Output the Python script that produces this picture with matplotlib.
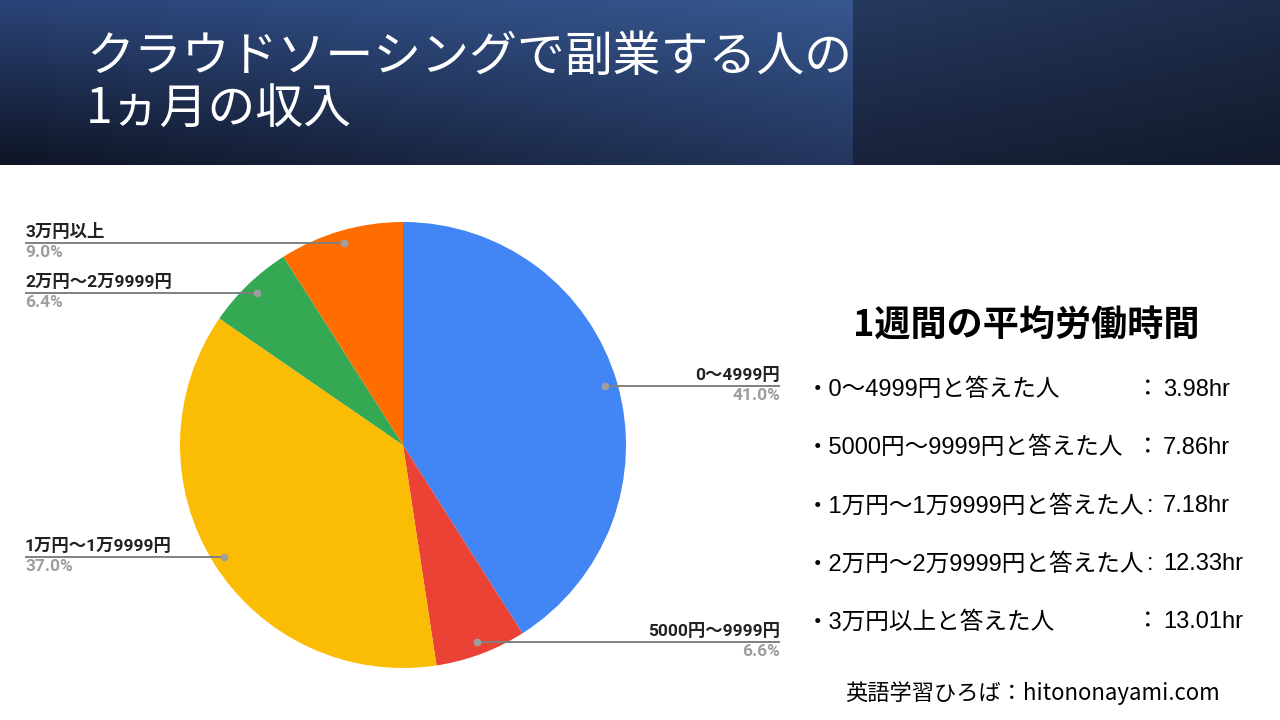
import numpy as np
import matplotlib.pyplot as plt

plt.rcParams['font.family'] = ['Noto Sans CJK JP', 'DejaVu Sans']

# pie data: monthly income of crowdsourcing side workers
categories = ['0～4999円', '5000円～9999円', '1万円～1万9999円', '2万円～2万9999円', '3万円以上']
shares = [41.0, 6.6, 37.0, 6.4, 9.0]
colors = ['#4285F4', '#EA4335', '#FBBC04', '#34A853', '#FF6D01']

# weekly working hours per income group
hours = [3.98, 7.86, 7.18, 12.33, 13.01]
separators = ['：', '：', ':', ':', '：']

title_lines = ['クラウドソーシングで副業する人の', '1ヵ月の収入']
side_title = '1週間の平均労働時間'
footer = '英語学習ひろば：hitononayami.com'

W, H = 1280, 720


def Y(py):
    # pixel row (from top) -> data y
    return H - py


fig = plt.figure(figsize=(12.8, 7.2), dpi=100)
ax = fig.add_axes([0, 0, 1, 1])

# header band, two gradient panels
def corner_gradient(c00, c10, c01, c11, nx=200, ny=60):
    # c00 top-left, c10 top-right, c01 bottom-left, c11 bottom-right
    cs = [np.array([int(c[i:i + 2], 16) for i in (1, 3, 5)]) / 255 for c in (c00, c10, c01, c11)]
    u = np.linspace(0, 1, nx)[None, :, None]
    v = np.linspace(0, 1, ny)[:, None, None]
    top = cs[0] * (1 - u) + cs[1] * u
    bot = cs[2] * (1 - u) + cs[3] * u
    return top * (1 - v) + bot * v

ax.imshow(corner_gradient('#2b4478', '#36578f', '#0e1424', '#24365d'),
          extent=(0, 853, Y(165), Y(0)), aspect='auto', interpolation='bilinear', zorder=0)
ax.imshow(corner_gradient('#26395f', '#1e2c4a', '#18223b', '#121a2b'),
          extent=(853, W, Y(165), Y(0)), aspect='auto', interpolation='bilinear', zorder=0)

ax.text(86, Y(57), title_lines[0], color='white', fontsize=34.5, va='center', ha='left')
ax.text(86, Y(110), title_lines[1], color='white', fontsize=34.5, va='center', ha='left')

# pie
cx, cy, r = 403, Y(445), 223
wedges, _ = ax.pie(shares, colors=colors, startangle=90, counterclock=False,
                   center=(cx, cy), radius=r, wedgeprops=dict(linewidth=0))

label_font = ['Roboto', 'Noto Sans CJK JP']
for w, cat, val in zip(wedges, categories, shares):
    mid = np.deg2rad((w.theta1 + w.theta2) / 2)
    dx = cx + 0.945 * r * np.cos(mid)
    dy = cy + 0.945 * r * np.sin(mid)
    if np.cos(mid) > 0:
        lx, ha = 780, 'right'
    else:
        lx, ha = 25, 'left'
    ax.plot([dx, lx], [dy, dy], color='#808080', lw=1.4, zorder=3, solid_capstyle='butt')
    ax.plot(dx, dy, 'o', color='#9e9e9e', ms=4.5, zorder=4)
    ax.text(lx, dy + 3, cat, ha=ha, va='bottom', fontsize=12.5, fontweight='bold',
            color='#222222', family=label_font)
    ax.text(lx, dy - 2, f'{val:.1f}%', ha=ha, va='top', fontsize=12.5, fontweight='bold',
            color='#9e9e9e', family=label_font)

# right side text block
list_font = ['Liberation Sans', 'Noto Sans CJK JP']
ax.text(1026, Y(326), side_title, ha='center', va='center', fontsize=26,
        fontweight='bold', color='black')
for i, (cat, hr, sep) in enumerate(zip(categories, hours, separators)):
    yy = Y(390 + i * 58)
    ax.text(806, yy, f'・{cat}と答えた人', ha='left', va='center', fontsize=17,
            color='black', family=list_font)
    ax.text(1148 if sep == '：' else 1150, yy, sep, ha='center', va='center', fontsize=17,
            color='black', family=list_font)
    ax.text(1163, yy, f'{hr:.2f}hr', ha='left', va='center', fontsize=17,
            color='black', family=list_font)

ax.text(1033, Y(693), footer, ha='center', va='center', fontsize=16, color='black')

ax.set_xlim(0, W)
ax.set_ylim(0, H)
ax.set_aspect('equal')
ax.axis('off')

fig.savefig('out.png', dpi=100, facecolor='white')
